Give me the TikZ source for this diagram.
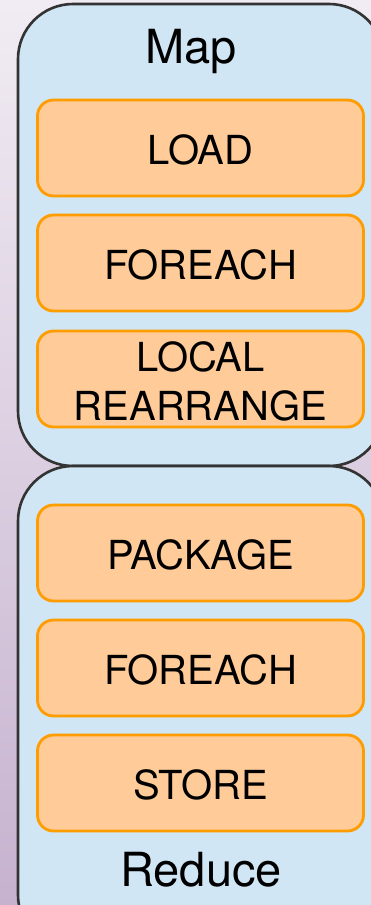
\documentclass[tikz,border=0pt]{standalone}
\usepackage{fontspec}
\setmainfont{TeX Gyre Heros}
\definecolor{bgtop}{HTML}{F1ECF3}
\definecolor{bgbot}{HTML}{C6B2CF}
\definecolor{phase}{HTML}{D0E6F4}
\definecolor{phaseline}{HTML}{333333}
\definecolor{opfill}{HTML}{FFCC99}
\definecolor{opline}{HTML}{FF9C00}
\tikzset{
  phasebox/.style={draw=phaseline, fill=phase, line width=2.6pt, rounded corners=55pt},
  opbox/.style={draw=opline, fill=opfill, line width=2.8pt, rounded corners=16pt,
    minimum width=326pt, minimum height=96pt, inner sep=0pt},
  optext/.style={font=\fontsize{40}{49}\selectfont, align=center, inner sep=0pt},
  phasetext/.style={font=\fontsize{47}{52}\selectfont, inner sep=0pt}
}
\begin{document}
\begin{tikzpicture}[x=1pt,y=-1pt]
\useasboundingbox (0,0) rectangle (371,905);
\clip (0,0) rectangle (371,905);
\shade[top color=bgtop, bottom color=bgbot] (0,0) rectangle (371,905);
% phase boxes
\draw[phasebox] (18,4) rectangle (384,466);
\draw[phasebox] (18,466) rectangle (384,950);
% titles
\node[phasetext] (map) at (191,51) {Map};
\node[phasetext] (reduce) at (201,870) {Reduce};
% operator boxes
\node[opbox] (load) at (200.5,148) {};
\node[optext] (loadt) at (200.5,150) {LOAD};
\node[opbox] (fe1) at (200.5,263) {};
\node[optext] (fe1t) at (200.5,265) {FOREACH};
\node[opbox] (lr) at (200.5,379) {};
\node[optext] (lrt) at (200.5,381) {LOCAL\\REARRANGE};
\node[opbox] (pkg) at (200.5,553) {};
\node[optext] (pkgt) at (200.5,555) {PACKAGE};
\node[opbox] (fe2) at (200.5,668) {};
\node[optext] (fe2t) at (200.5,670) {FOREACH};
\node[opbox] (store) at (200.5,783) {};
\node[optext] (storet) at (200.5,785) {STORE};
\end{tikzpicture}
\end{document}
